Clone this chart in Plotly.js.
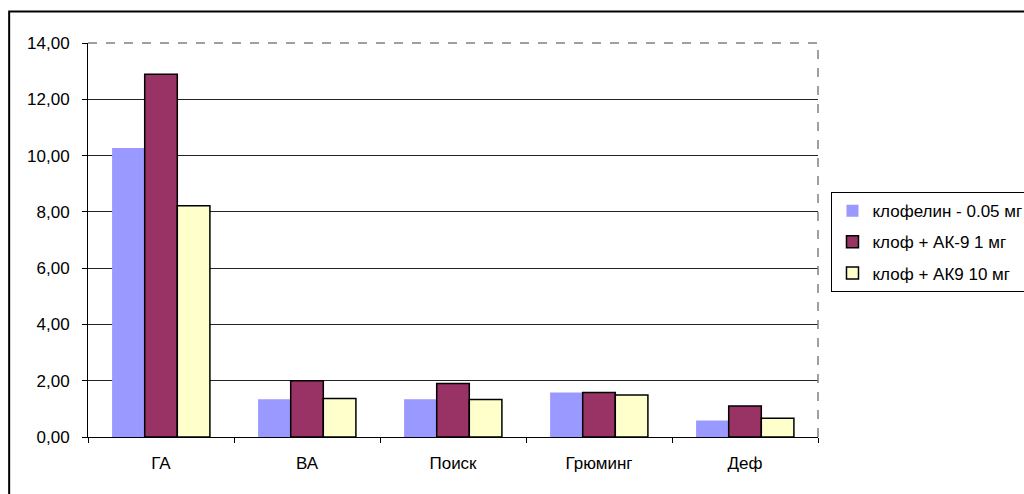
<!DOCTYPE html>
<html>
<head>
<meta charset="utf-8">
<script src="https://cdn.plot.ly/plotly-3.0.1.min.js"></script>
<style>html,body{margin:0;padding:0;background:#fff;}#chart{width:1024px;height:494px;}</style>
</head>
<body>
<div id="chart"></div>
<script>
const categories = ["ГА", "ВА", "Поиск", "Грюминг", "Деф"];
const seriesNames = ["клофелин - 0.05 мг", "клоф + АК-9 1 мг", "клоф + АК9 10 мг"];
const clofelin = [10.27, 1.34, 1.34, 1.58, 0.59];
const ak9_1mg = [12.89, 2.00, 1.90, 1.58, 1.10];
const ak9_10mg = [8.22, 1.37, 1.33, 1.49, 0.67];
const yTicks = [0, 2, 4, 6, 8, 10, 12, 14];

const FONT = "Liberation Sans, Arial, sans-serif";
const colors = ["#9999FF", "#993366", "#FFFFCC"];
const values = [clofelin, ak9_1mg, ak9_10mg];

const traces = values.map((v, i) => ({
  type: "bar",
  name: seriesNames[i],
  x: categories,
  y: v,
  legendgroup: "g" + i,
  marker: {
    color: colors[i],
    line: {color: "#000", width: i === 0 ? 0 : 1.5}
  },
  hoverinfo: "skip"
}));

const layout = {
  width: 1024,
  height: 494,
  paper_bgcolor: "#fff",
  plot_bgcolor: "#fff",
  margin: {l: 88, r: 206, t: 43, b: 57, autoexpand: false},
  separators: ", ",
  font: {family: FONT, size: 17, color: "#000"},
  barmode: "group",
  bargap: 0.33,
  bargroupgap: 0,
  showlegend: true,
  legend: {
    xref: "container", yref: "container",
    x: 0.812, y: 0.611, xanchor: "left", yanchor: "top",
    bordercolor: "#000", borderwidth: 1, bgcolor: "#fff",
    font: {family: FONT, size: 17, color: "#000"},
    traceorder: "grouped",
    tracegroupgap: 6,
    itemclick: false
  },
  xaxis: {
    type: "category",
    showline: true, linecolor: "#000", linewidth: 1,
    ticks: "outside", ticklen: 5, tickcolor: "#000",
    tickson: "boundaries",
    ticklabelstandoff: 11,
    showgrid: false,
    tickfont: {family: FONT, size: 17, color: "#000"},
    fixedrange: true
  },
  yaxis: {
    range: [0, 14],
    tickvals: yTicks,
    tickformat: ".2f",
    showline: true, linecolor: "#000", linewidth: 1,
    ticks: "outside", ticklen: 5, tickcolor: "#000",
    ticklabelstandoff: 9,
    showgrid: true, gridcolor: "#222", gridwidth: 1,
    zeroline: false,
    tickfont: {family: FONT, size: 17, color: "#000"},
    fixedrange: true
  },
  shapes: [
    {type: "line", xref: "paper", yref: "paper", x0: 0, x1: 1, y0: 1, y1: 1,
     line: {color: "#fff", width: 2}, layer: "above"},
    {type: "line", xref: "paper", yref: "paper", x0: 0, x1: 1, y0: 1, y1: 1,
     line: {color: "#808080", width: 1.5, dash: "dash"}, layer: "above"},
    {type: "line", xref: "paper", yref: "paper", x0: 1, x1: 1, y0: 0, y1: 1,
     line: {color: "#808080", width: 1.5, dash: "dash"}, layer: "above"},
    {type: "rect", xref: "paper", yref: "paper", x0: -0.108, x1: 1.5, y0: -1, y1: 1.08,
     line: {color: "#000", width: 2}, fillcolor: "rgba(0,0,0,0)", layer: "above"}
  ]
};

Plotly.newPlot("chart", traces, layout, {staticPlot: true, displayModeBar: false});
</script>
</body>
</html>
